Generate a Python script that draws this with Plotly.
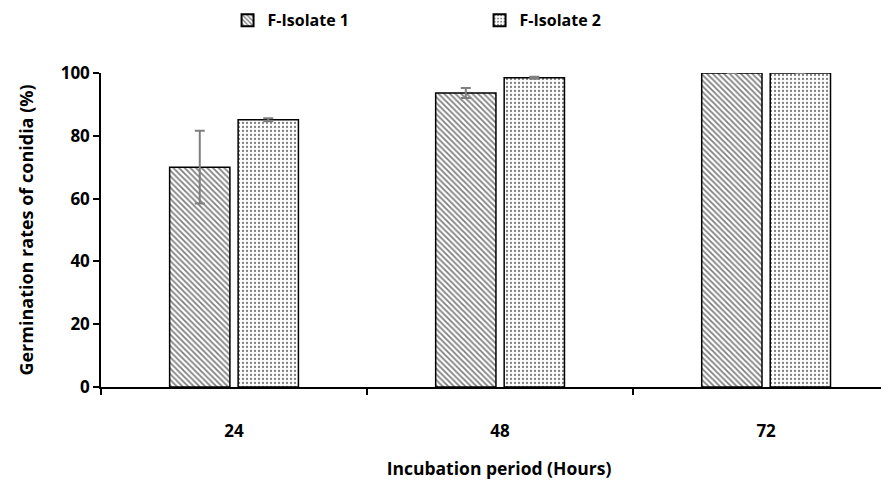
import plotly.graph_objects as go

categories = ["24", "48", "72"]
iso1_values = [70.0, 93.6, 100.0]
iso1_errors = [11.6, 1.6, 0.0]
iso2_values = [85.1, 98.5, 100.0]
iso2_errors = [0.5, 0.3, 0.0]
series_names = ["F-Isolate 1", "F-Isolate 2"]

FONT = "Open Sans"

fig = go.Figure()
fig.add_trace(go.Bar(
    x=categories, y=iso1_values, name=series_names[0],
    marker=dict(color="white", line=dict(color="black", width=1.5),
                pattern=dict(shape="\\", fgcolor="black", bgcolor="white", size=4, solidity=0.45)),
    error_y=dict(type="data", array=iso1_errors, color="#7f7f7f", thickness=2, width=5),
))
fig.add_trace(go.Bar(
    x=categories, y=iso2_values, name=series_names[1],
    marker=dict(color="white", line=dict(color="black", width=1.5),
                pattern=dict(shape=".", fgcolor="black", bgcolor="white", size=4, solidity=0.25)),
    error_y=dict(type="data", array=iso2_errors, color="#7f7f7f", thickness=2, width=5),
))

fig.update_layout(
    width=889, height=484,
    margin=dict(l=93, r=0, t=65, b=104.5, autoexpand=False),
    paper_bgcolor="white", plot_bgcolor="white",
    barmode="group", bargap=0.485, bargroupgap=0.12,
    font=dict(family=FONT, size=17, color="black"),
    showlegend=True,
    legend=dict(orientation="h", x=0.159, xanchor="left", y=1.168, yanchor="middle",
                entrywidth=207, entrywidthmode="pixels",
                font=dict(family=FONT, size=16, color="black", weight="bold"),
                itemsizing="constant", borderwidth=0),
    xaxis=dict(type="category", range=[-0.5, 2.492], automargin=False,
               showline=True, linecolor="black", linewidth=1.5,
               ticks="outside", tickson="boundaries", ticklen=6, tickcolor="black", tickwidth=1.5,
               ticklabelstandoff=28,
               tickfont=dict(family=FONT, size=17, weight="bold"),
               title=dict(text="Incubation period (Hours)", font=dict(family=FONT, size=17.5, weight="bold"),
                          standoff=22),
               showgrid=False),
    yaxis=dict(range=[0, 100], dtick=20, automargin=False,
               showline=True, linecolor="black", linewidth=1.5,
               ticks="outside", ticklen=6, tickcolor="black", tickwidth=1.5,
               tickfont=dict(family=FONT, size=17, weight="bold"),
               title=dict(text="Germination rates of conidia (%)", font=dict(family=FONT, size=18, weight="bold"),
                          standoff=22),
               showgrid=False, zeroline=False),
)

fig.write_html("out.html")
